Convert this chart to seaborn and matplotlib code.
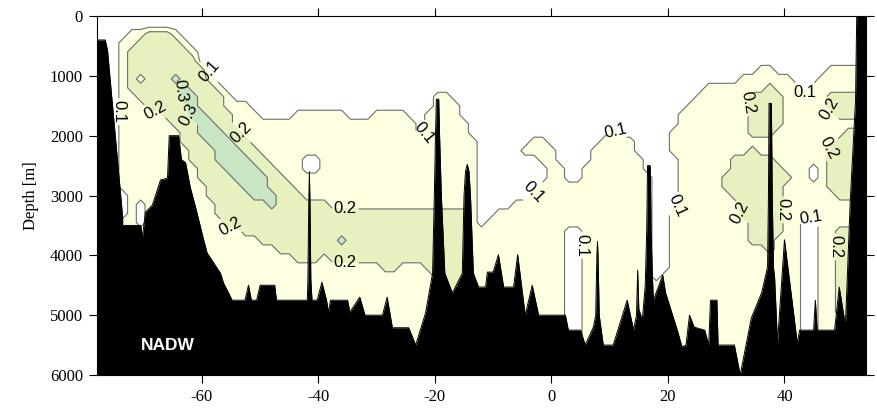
import numpy as np
import matplotlib
matplotlib.use("Agg")
import matplotlib.pyplot as plt
import seaborn as sns

# ---- section grid -------------------------------------------------------
station_lon = np.arange(-78.0, 54.01, 1.5)      # 89 stations
level_depth = np.arange(0.0, 6000.1, 150.0)     # 41 levels

# value carried by each class symbol
class_value = {".": 0.05, "1": 0.15, "2": 0.25, "3": 0.35}

# class profile of every station, top to bottom: "<class>@<first level index>"
station_layers = [
    ".@0",                                   # -78.0
    ".@0",                                   # -76.5
    ".@0",                                   # -75.0
    ".@0 1@3 .@20 1@23",                     # -73.5
    ".@0 1@2 2@4 1@9",                       # -72.0
    ".@0 1@2 2@3 1@7 2@8 1@10 .@21 1@24",    # -70.5
    ".@0 2@2 1@11",                          # -69.0
    ".@0 2@2 1@11",                          # -67.5
    ".@0 2@2 1@12",                          # -66.0
    ".@0 1@2 2@3 3@7 2@8 1@13",              # -64.5
    ".@0 1@3 2@4 3@8 2@10 1@15",             # -63.0
    ".@0 1@4 2@5 3@9 2@12 1@17",             # -61.5
    ".@0 2@6 3@11 2@14 1@19",                # -60.0
    ".@0 1@7 2@8 3@12 2@15 1@21",            # -58.5
    ".@0 1@8 2@9 3@13 2@17 1@23",            # -57.0
    ".@0 1@9 2@11 3@14 2@18 1@24",           # -55.5
    ".@0 1@10 2@13 3@15 2@19 1@24",          # -54.0
    ".@0 1@10 2@14 3@16 2@20 1@25",          # -52.5
    ".@0 1@11 2@15 3@17 2@21 1@25",          # -51.0
    ".@0 1@12 2@16 3@18 2@21 1@26",          # -49.5
    ".@0 1@12 2@17 3@20 2@22 1@26",          # -48.0
    ".@0 1@12 2@18 1@27",                    # -46.5
    ".@0 1@12 2@19 1@27",                    # -45.0
    ".@0 1@11 2@20 1@28",                    # -43.5
    ".@0 1@11 .@16 1@18 2@21 1@28",          # -42.0
    ".@0 1@11 .@16 1@18 2@21 1@28",          # -40.5
    ".@0 1@11 2@21 1@27",                    # -39.0
    ".@0 1@11 2@22 1@28",                    # -37.5
    ".@0 1@11 2@22 3@25 2@26 1@28",          # -36.0
    ".@0 1@12 2@22 1@28",                    # -34.5
    ".@0 1@12 2@22 1@28",                    # -33.0
    ".@0 1@12 2@22 1@28",                    # -31.5
    ".@0 1@11 2@22 1@28",                    # -30.0
    ".@0 1@11 2@22 1@29",                    # -28.5
    ".@0 1@11 2@22 1@29",                    # -27.0
    ".@0 1@11 2@22 1@28",                    # -25.5
    ".@0 1@12 2@22 1@28",                    # -24.0
    ".@0 1@14 2@22 1@28",                    # -22.5
    ".@0 1@11 2@22 1@29",                    # -21.0
    ".@0 1@9 2@22 1@31",                     # -19.5
    ".@0 1@9 2@22 1@31",                     # -18.0
    ".@0 1@10 2@22 1@32",                    # -16.5
    ".@0 1@12 2@22 1@32",                    # -15.0
    ".@0 1@14",                              # -13.5
    ".@0 1@24",                              # -12.0
    ".@0 1@23",                              # -10.5
    ".@0 1@22",                              # -9.0
    ".@0 1@22",                              # -7.5
    ".@0 1@21",                              # -6.0
    ".@0 1@15 .@16 1@21",                    # -4.5
    ".@0 1@14 .@16 1@20",                    # -3.0
    ".@0 1@14 .@17 1@19",                    # -1.5
    ".@0 1@15",                              # 0.0
    ".@0 1@17",                              # 1.5
    ".@0 1@19 .@24",                         # 3.0
    ".@0 1@19 .@24",                         # 4.5
    ".@0 1@17",                              # 6.0
    ".@0 1@15",                              # 7.5
    ".@0 1@14",                              # 9.0
    ".@0 1@13",                              # 10.5
    ".@0 1@14",                              # 12.0
    ".@0 1@14",                              # 13.5
    ".@0 1@16",                              # 15.0
    ".@0 1@18",                              # 16.5
    ".@0 1@30",                              # 18.0
    ".@0 1@29",                              # 19.5
    ".@0 1@13 .@16 1@22",                    # 21.0
    ".@0 1@11",                              # 22.5
    ".@0 1@10",                              # 24.0
    ".@0 1@9",                               # 25.5
    ".@0 1@8",                               # 27.0
    ".@0 1@8",                               # 28.5
    ".@0 1@8 2@18 1@20",                     # 30.0
    ".@0 1@8 2@16 1@21",                     # 31.5
    ".@0 1@7 2@16 1@23",                     # 33.0
    ".@0 1@7 2@9 1@14 2@15 1@26",            # 34.5
    ".@0 1@6 2@9 1@14 2@16 1@26",            # 36.0
    ".@0 1@6 2@8 1@14 2@16 1@27",            # 37.5
    ".@0 1@7 2@9 1@13 2@17 1@25",            # 39.0
    ".@0 1@7 2@18 1@19",                     # 40.5
    ".@0 1@8",                               # 42.0
    ".@0 1@9 .@23",                          # 43.5
    ".@0 1@8 .@17 1@19 .@23",                # 45.0
    ".@0 1@7",                               # 46.5
    ".@0 1@6 2@9 1@11 2@15 1@20",            # 48.0
    ".@0 1@6 2@9 1@12 2@14 1@21 2@24 1@34",  # 49.5
    ".@0 1@6 2@9 1@12 2@13 1@21 2@24 1@34",  # 51.0
    ".@0 1@6 2@9 1@12 2@13 1@21 2@24 1@34",  # 52.5
    ".@0 1@6 2@9 1@12 2@13 1@21 2@24 1@34",  # 54.0
]

# bottom topography along the section
bathy_lon = [
    -78.0, -76.6, -76.2, -73.6, -73.6, -70.5, -70.2, -69.7, -68.5, -67.1,
    -65.9, -65.6, -64.0, -63.5, -62.8, -62.0, -61.1, -59.7, -59.1, -56.8,
    -56.3, -54.8, -52.6, -52.0, -51.5, -50.6, -50.0, -47.5, -47.2, -41.9,
    -41.8, -41.65, -41.55, -41.45, -41.3, -41.1, -40.2, -39.4, -38.6, -38.3,
    -37.9, -35.0, -34.6, -32.9, -32.0, -29.0, -28.2, -27.3, -24.5, -23.3,
    -21.6, -20.4, -20.1, -19.9, -19.75, -19.35, -19.2, -18.9, -18.3, -17.0,
    -15.3, -15.0, -14.75, -14.45, -14.15, -13.9, -13.4, -12.5, -11.3, -11.0,
    -10.0, -9.1, -8.2, -6.5, -5.8, -4.5, -3.3, -2.2, 2.4, 2.9,
    5.0, 5.8, 7.2, 7.6, 7.8, 7.9, 8.0, 8.2, 8.9, 10.6,
    13.0, 14.1, 14.6, 14.8, 15.0, 15.6, 16.1, 16.35, 16.5, 16.95,
    17.1, 17.3, 17.5, 19.1, 19.6, 21.6, 22.4, 23.1, 23.7, 24.5,
    26.3, 27.0, 27.3, 28.4, 28.6, 31.4, 32.4, 33.3, 34.3, 36.1,
    37.1, 37.25, 37.35, 37.75, 37.9, 38.1, 38.3, 38.8, 40.0, 42.2,
    42.6, 45.0, 45.3, 45.6, 48.6, 49.4, 50.3, 50.5, 51.3, 52.2,
    52.4, 54.0,
]
bathy_depth = [
    400, 400, 570, 3360, 3500, 3500, 3700, 3280, 3160, 2740,
    2710, 2000, 2000, 2400, 2450, 2860, 3190, 3740, 3960, 4300,
    4460, 4750, 4750, 4500, 4750, 4750, 4500, 4500, 4750, 4750,
    4400, 3100, 2600, 3100, 4400, 4750, 4750, 4450, 4750, 4950,
    4750, 4750, 4950, 4700, 5000, 5000, 4700, 5210, 5210, 5500,
    4960, 4300, 3000, 2000, 1390, 1390, 2000, 3000, 4300, 4630,
    4300, 3000, 2600, 2480, 2600, 3000, 4300, 4530, 4530, 4280,
    4280, 3990, 4530, 4530, 3990, 5000, 4500, 5000, 5000, 5250,
    5250, 5500, 5200, 5000, 4020, 3770, 4020, 5000, 5500, 5500,
    4750, 5250, 5000, 4250, 4900, 5080, 4500, 3600, 2500, 2500,
    3600, 4300, 4750, 4330, 4630, 5250, 5530, 5500, 5000, 5200,
    5250, 5500, 4750, 4750, 5500, 5500, 6000, 5550, 5050, 4620,
    4190, 3000, 1460, 1460, 3000, 4200, 4360, 5470, 3740, 5470,
    5250, 5250, 4750, 5250, 5250, 4530, 5080, 5080, 3075, 1400,
    0, 0,
]

contour_levels = [0.1, 0.2, 0.3]
fill_levels = [0.1, 0.2, 0.3, 0.4]
fill_colors = ["#fefee0", "#e6f1bf", "#c9e6c4"]

# where the contour values are written (lon, depth)
label_points = [
    (-58.9, 940), (-74.2, 1600), (-68.0, 1620), (-63.6, 1250), (-62.2, 1650),
    (-53.7, 1990), (-55.1, 3540), (-35.4, 3260), (-35.4, 4180), (-22.1, 1940),
    (-3.1, 2940), (5.2, 3830), (11.3, 1900), (21.5, 3150), (32.4, 3290),
    (34.8, 1450), (44.1, 1350), (48.8, 1450), (48.4, 2290), (39.8, 3240),
    (44.5, 3490), (48.4, 3860),
]

x_ticks = [-60, -40, -20, 0, 20, 40]
y_ticks = [0, 1000, 2000, 3000, 4000, 5000, 6000]
water_mass = "NADW"


def expand(spec, n):
    """Turn a layered class profile into a column of values."""
    out = np.empty(n)
    parts = [p.split("@") for p in spec.split()]
    for k, (cls, start) in enumerate(parts):
        stop = int(parts[k + 1][1]) if k + 1 < len(parts) else n
        out[int(start):stop] = class_value[cls]
    return out


assert len(station_layers) == station_lon.size
assert len(bathy_lon) == len(bathy_depth)
field = np.column_stack([expand(s, level_depth.size) for s in station_layers])

# ---- style --------------------------------------------------------------
sns.set_theme(style="ticks")
plt.rcParams.update({
    "font.family": ["Liberation Serif", "DejaVu Serif"],
    "axes.edgecolor": "black",
    "axes.linewidth": 0.8,
    "axes.facecolor": "white",
    "xtick.color": "black",
    "ytick.color": "black",
    "text.color": "black",
    "axes.labelcolor": "black",
})

fig = plt.figure(figsize=(8.77, 4.13), dpi=100)
ax = fig.add_axes([0.1106, 0.0920, 0.8769, 0.8692])

ax.contourf(station_lon, level_depth, field, levels=fill_levels,
            colors=fill_colors, zorder=1)
cs = ax.contour(station_lon, level_depth, field, levels=contour_levels,
                colors="#6f6f6f", linewidths=0.8, zorder=2)

# sea floor
ax.fill_between(bathy_lon, bathy_depth, 6000, color="black", lw=0, zorder=3)
sns.lineplot(x=bathy_lon, y=bathy_depth, color="black", lw=0.7, sort=False,
             estimator=None, ax=ax, zorder=3)

with plt.rc_context({"font.family": ["Liberation Sans", "DejaVu Sans"]}):
    labels = ax.clabel(cs, levels=contour_levels, fmt="%.1f", fontsize=12,
                       inline=True, inline_spacing=2, manual=label_points,
                       colors="black")
for t in labels:
    t.set_zorder(4)

ax.text(-65.8, 5500, water_mass, color="white", fontsize=12.5,
        fontweight="bold", family=["Liberation Sans", "DejaVu Sans"],
        ha="center", va="center", zorder=5)

ax.set_xlim(-78, 54)
ax.set_ylim(6000, 0)
ax.set_xticks(x_ticks)
ax.set_yticks(y_ticks)
ax.set_xticklabels([str(v) for v in x_ticks])
ax.set_yticklabels([str(v) for v in y_ticks])
ax.tick_params(which="major", direction="out", length=6, width=0.8,
               top=True, right=True, labeltop=False, labelright=False,
               labelsize=12, pad=4)
ax.set_xlabel("")
ax.set_ylabel("Depth [m]", fontsize=12, labelpad=8)
for side in ("top", "right", "bottom", "left"):
    ax.spines[side].set_visible(True)

fig.savefig("out.png", dpi=100)
